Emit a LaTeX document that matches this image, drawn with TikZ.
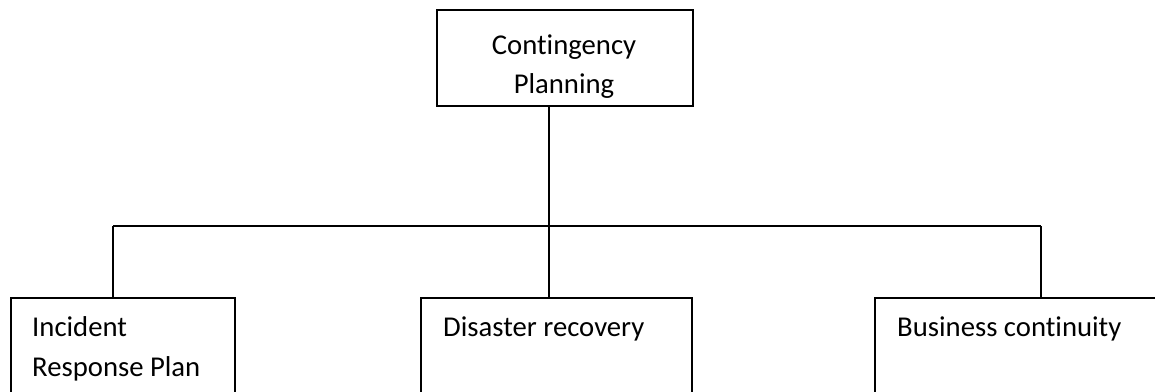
\documentclass[tikz,border=0pt]{standalone}
\usepackage{fontspec}
\setmainfont{Carlito}[Ligatures=NoCommon]
\begin{document}
\begin{tikzpicture}[x=1pt,y=-1pt,
  box/.style={draw, line width=1.6pt, inner sep=0pt, rectangle},
  lbl/.style={inner sep=0pt, font=\fontsize{28.7}{38}\selectfont},
  conn/.style={line width=1.6pt}]
\useasboundingbox (0,0) rectangle (1155,391);
\clip (0,0) rectangle (1155,391);
% boxes
\node[box, minimum width=256pt, minimum height=96pt] (top) at (565,58) {};
\node[box, minimum width=224pt, minimum height=130pt] (inc) at (123,363) {};
\node[box, minimum width=271pt, minimum height=130pt] (dis) at (556.5,363) {};
\node[box, minimum width=305pt, minimum height=130pt] (bus) at (1027.5,363) {};
% texts
\node[lbl, anchor=base] (t1) at (564,54) {Contingency};
\node[lbl, anchor=base] (t2) at (564,93) {Planning};
\node[lbl, anchor=base west] (i1) at (32,336) {Incident};
\node[lbl, anchor=base west] (i2) at (32,376) {Response Plan};
\node[lbl, anchor=base west] (d1) at (443,336) {Disaster recovery};
\node[lbl, anchor=base west] (b1) at (897,336) {Business continuity};
% connectors
\coordinate (hub) at (549,226);
\coordinate (bl) at (113,226);
\coordinate (br) at (1041,226);
\draw[conn] (top.south -| hub) -- (hub);
\draw[conn] (bl) -- (br);
\draw[conn] (bl) -- (bl |- inc.north);
\draw[conn] (hub) -- (hub |- dis.north);
\draw[conn] (br) -- (br |- bus.north);
\end{tikzpicture}
\end{document}
